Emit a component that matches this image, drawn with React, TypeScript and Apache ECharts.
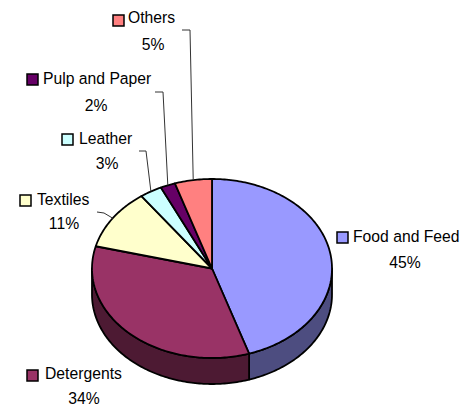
import React, { useEffect, useRef } from "react";
import * as echarts from "echarts";

const categories = ["Food and Feed", "Detergents", "Textiles", "Leather", "Pulp and Paper", "Others"];
const shares = [45, 34, 11, 3, 2, 5];
const topColors = ["#9999FF", "#993366", "#FFFFCC", "#CCFFFF", "#660066", "#FF8080"];
const wallColors = ["#4D4D80", "#4D1A33", "#80805F", "#668080", "#330033", "#804040"];

// Pie geometry, in page pixels
const CX = 212;
const CY = 268.5;
const RX = 120;
const RY = 89.5;
const DEPTH = 26;
const FONT = '17px "Liberation Sans", Arial, sans-serif';
// Captions are set tall and slightly condensed
const TEXT_SQUEEZE = 0.925;

// Where each caption block sits: key square corner, caption start, percent centre
const captionLayout = [
  { keyX: 337, keyY: 232, textX: 353, textY: 236, pctX: 405, pctY: 262 },
  { keyX: 27, keyY: 370, textX: 45, textY: 373, pctX: 84, pctY: 398 },
  { keyX: 20, keyY: 195, textX: 37, textY: 199, pctX: 64, pctY: 223 },
  { keyX: 62, keyY: 134, textX: 79, textY: 138, pctX: 107, pctY: 163 },
  { keyX: 27, keyY: 74, textX: 43, textY: 78, pctX: 96, pctY: 105 },
  { keyX: 113, keyY: 15, textX: 128, textY: 17, pctX: 153, pctY: 44 },
];

// Leader elbows for the small slices; the far end is the slice's rim midpoint
const leaderElbows: (number[][] | null)[] = [
  null,
  null,
  [[97, 212], [104, 213]],
  [[139, 151], [146, 151]],
  [[155, 92], [163, 92]],
  [[182, 30], [190, 30]],
];

const rim = (deg: number, drop = 0): number[] => {
  const a = (deg * Math.PI) / 180;
  return [CX + RX * Math.sin(a), CY - RY * Math.cos(a) + drop];
};

const arcPoints = (from: number, to: number, drop = 0): number[][] => {
  const steps = Math.max(1, Math.ceil(Math.abs(to - from)));
  const pts: number[][] = [];
  for (let i = 0; i <= steps; i++) pts.push(rim(from + ((to - from) * i) / steps, drop));
  return pts;
};

const total = shares.reduce((s, v) => s + v, 0);
const startAngle = (index: number) =>
  (shares.slice(0, index).reduce((s, v) => s + v, 0) / total) * 360;

const caption = (text: string, x: number, y: number, align: string) => ({
  type: "text",
  x,
  y,
  scaleX: TEXT_SQUEEZE,
  style: {
    text,
    x: 0,
    y: 0,
    font: FONT,
    fill: "#000",
    textAlign: align,
    textVerticalAlign: "middle",
  },
});

const renderSlice = (params: any, api: any) => {
  const i = params.dataIndex;
  const value = api.value(0) as number;
  const from = startAngle(i);
  const to = from + (value / total) * 360;
  const line = { stroke: "#000", lineWidth: 1.8, lineJoin: "round" };
  const children: any[] = [];

  // Front wall: only the part of the slice facing the viewer
  const wallFrom = Math.max(from, 90);
  const wallTo = Math.min(to, 270);
  if (wallTo > wallFrom) {
    children.push({
      type: "polygon",
      shape: {
        points: [...arcPoints(wallFrom, wallTo), ...arcPoints(wallTo, wallFrom, DEPTH)],
      },
      style: { fill: wallColors[i], ...line },
    });
  }

  children.push({
    type: "polygon",
    shape: { points: [[CX, CY], ...arcPoints(from, to)] },
    style: { fill: topColors[i], ...line },
  });

  const elbows = leaderElbows[i];
  if (elbows) {
    children.push({
      type: "polyline",
      shape: { points: [...elbows, rim((from + to) / 2)] },
      style: { fill: "none", stroke: "#333", lineWidth: 1 },
    });
  }

  const c = captionLayout[i];
  children.push(
    {
      type: "rect",
      shape: { x: c.keyX, y: c.keyY, width: 11, height: 11 },
      style: { fill: topColors[i], stroke: "#000", lineWidth: 1.5 },
    },
    caption(categories[i], c.textX, c.textY, "left"),
    caption(`${value}%`, c.pctX, c.pctY, "center")
  );

  return { type: "group", children };
};

export default function App() {
  const ref = useRef<HTMLDivElement>(null);

  useEffect(() => {
    if (!ref.current) return;
    const chart = echarts.init(ref.current, undefined, { renderer: "svg" });
    chart.setOption({
      animation: false,
      backgroundColor: "#fff",
      series: [
        {
          type: "custom",
          coordinateSystem: "none",
          renderItem: renderSlice,
          data: categories.map((name, i) => ({ name, value: [shares[i]] })),
        },
      ],
    });
    return () => chart.dispose();
  }, []);

  return (
    <div
      ref={ref}
      style={{ position: "absolute", left: 0, top: 0, width: 472, height: 407 }}
    />
  );
}
